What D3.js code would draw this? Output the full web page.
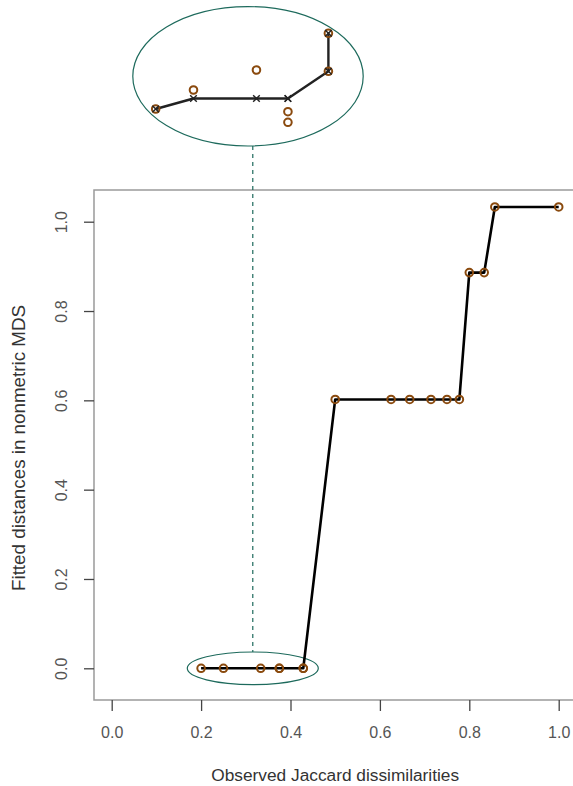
<!DOCTYPE html>
<html>
<head>
<meta charset="utf-8">
<script src="https://cdn.jsdelivr.net/npm/d3@7"></script>
<style>
  html, body { margin: 0; padding: 0; background: #fff; }
  svg { display: block; }
  text { font-family: "Liberation Sans", Arial, sans-serif; }
</style>
</head>
<body>
<svg id="chart" width="573" height="786"></svg>
<script>
// Shepard diagram: observed Jaccard dissimilarities vs fitted distances
const dissim = [0.2, 0.25, 1/3, 0.375, 0.375, 3/7, 3/7, 0.5, 5/8, 2/3, 5/7, 3/4, 7/9, 4/5, 5/6, 6/7, 1.0];
const fitted = [0, 0, 0, 0, 0, 0, 0, 0.602, 0.602, 0.602, 0.602, 0.602, 0.602, 0.886, 0.886, 1.033, 1.033];

// Magnified view of the pairs fitted at ~0 (distances in units of 1e-3)
const insetDissim = [0.2, 0.25, 1/3, 0.375, 0.375, 3/7, 3/7];
const insetConfig = [3.1, 5.0, 7.0, 2.83, 1.77, 6.87, 10.67];
const insetFitted = [3.1, 4.15, 4.15, 4.15, 4.15, 6.87, 10.67];

const xTicks = [0, 0.2, 0.4, 0.6, 0.8, 1.0];
const yTicks = [0, 0.2, 0.4, 0.6, 0.8, 1.0];
const xLabel = "Observed Jaccard dissimilarities";
const yLabel = "Fitted distances in nonmetric MDS";

const svg = d3.select("#chart");
const brown = "#8a4a0e";
const teal = "#1d6a5c";

const x = d3.scaleLinear().domain([0, 1]).range([111.7, 558.7]);
const y = d3.scaleLinear().domain([0, 1]).range([668.3, 221.7]);

// plot box
const box = { left: x(-0.0396), right: x(1.04), top: 190, bottom: 700 };
svg.append("rect")
  .attr("x", box.left).attr("y", box.top)
  .attr("width", box.right - box.left).attr("height", box.bottom - box.top)
  .attr("fill", "none").attr("stroke", "#9a9a9a").attr("stroke-width", 1.5);

// x axis
const gx = svg.append("g").attr("transform", `translate(0,${box.bottom})`)
  .call(d3.axisBottom(x).tickValues(xTicks).tickFormat(d3.format(".1f"))
    .tickSize(11).tickPadding(16));
gx.select(".domain").remove();
gx.selectAll(".tick line").attr("stroke", "#444").attr("stroke-width", 1.3);
gx.selectAll(".tick text").attr("fill", "#555").attr("font-size", 16)
  .attr("font-family", "'Liberation Sans', Arial, sans-serif");

// y axis with rotated labels
const gy = svg.append("g").attr("transform", `translate(${box.left},0)`)
  .call(d3.axisLeft(y).tickValues(yTicks).tickFormat(d3.format(".1f")).tickSize(10));
gy.select(".domain").remove();
gy.selectAll(".tick line").attr("stroke", "#444").attr("stroke-width", 1.3);
gy.selectAll(".tick text")
  .attr("fill", "#555").attr("font-size", 16)
  .attr("font-family", "'Liberation Sans', Arial, sans-serif")
  .attr("text-anchor", "middle")
  .attr("x", null).attr("dy", null)
  .attr("transform", `translate(${61.7 - box.left},0) rotate(-90)`)
  .attr("dy", "0.35em");

// axis titles
svg.append("text")
  .attr("x", (x(0) + x(1)) / 2).attr("y", 781)
  .attr("text-anchor", "middle").attr("font-size", 17.3).attr("fill", "#333")
  .text(xLabel);
svg.append("text")
  .attr("transform", `translate(18,${(box.top + box.bottom) / 2 + 3}) rotate(-90)`)
  .attr("text-anchor", "middle").attr("dy", "0.35em")
  .attr("font-size", 18.8).attr("fill", "#333")
  .text(yLabel);

// highlight of the zero-fitted group and its connector
const zeroCx = (x(0.2) + x(3/7)) / 2 + 0.6;
svg.append("ellipse")
  .attr("cx", zeroCx).attr("cy", y(0)).attr("rx", 65.5).attr("ry", 16.3)
  .attr("fill", "none").attr("stroke", teal).attr("stroke-width", 1.2);
svg.append("line")
  .attr("x1", zeroCx).attr("x2", zeroCx).attr("y1", 146).attr("y2", y(0) - 16.3)
  .attr("stroke", teal).attr("stroke-width", 1.2).attr("stroke-dasharray", "4,4");

// step line and points
const pts = dissim.map((d, i) => [d, fitted[i]]);
svg.append("path")
  .attr("d", d3.line().x(d => x(d[0])).y(d => y(d[1]))(pts))
  .attr("fill", "none").attr("stroke", "#000").attr("stroke-width", 2.6)
  .attr("stroke-linejoin", "round");
svg.append("g").selectAll("circle").data(pts).join("circle")
  .attr("cx", d => x(d[0])).attr("cy", d => y(d[1])).attr("r", 3.8)
  .attr("fill", "none").attr("stroke", brown).attr("stroke-width", 2);

// inset: magnified zero group
const ix = d3.scaleLinear().domain([0.2, 3/7]).range([155.7, 328.4]);
const iy = d3.scaleLinear().domain([0, 10]).range([140, 40]);
svg.append("ellipse")
  .attr("cx", 248).attr("cy", 76.3).attr("rx", 115.2).attr("ry", 69.7)
  .attr("fill", "none").attr("stroke", teal).attr("stroke-width", 1.2);

const ipts = insetDissim.map((d, i) => ({ d, c: insetConfig[i], f: insetFitted[i] }));
svg.append("path")
  .attr("d", d3.line().x(p => ix(p.d)).y(p => iy(p.f))(ipts))
  .attr("fill", "none").attr("stroke", "#222").attr("stroke-width", 2.4)
  .attr("stroke-linejoin", "round");
svg.append("g").selectAll("circle").data(ipts).join("circle")
  .attr("cx", p => ix(p.d)).attr("cy", p => iy(p.c)).attr("r", 3.8)
  .attr("fill", "none").attr("stroke", brown).attr("stroke-width", 2);
const s = 3.3;
svg.append("g").selectAll("path").data(ipts).join("path")
  .attr("d", p => {
    const cx = ix(p.d), cy = iy(p.f);
    return `M${cx - s},${cy - s}L${cx + s},${cy + s}M${cx - s},${cy + s}L${cx + s},${cy - s}`;
  })
  .attr("fill", "none").attr("stroke", "#222").attr("stroke-width", 1.4);
</script>
</body>
</html>
